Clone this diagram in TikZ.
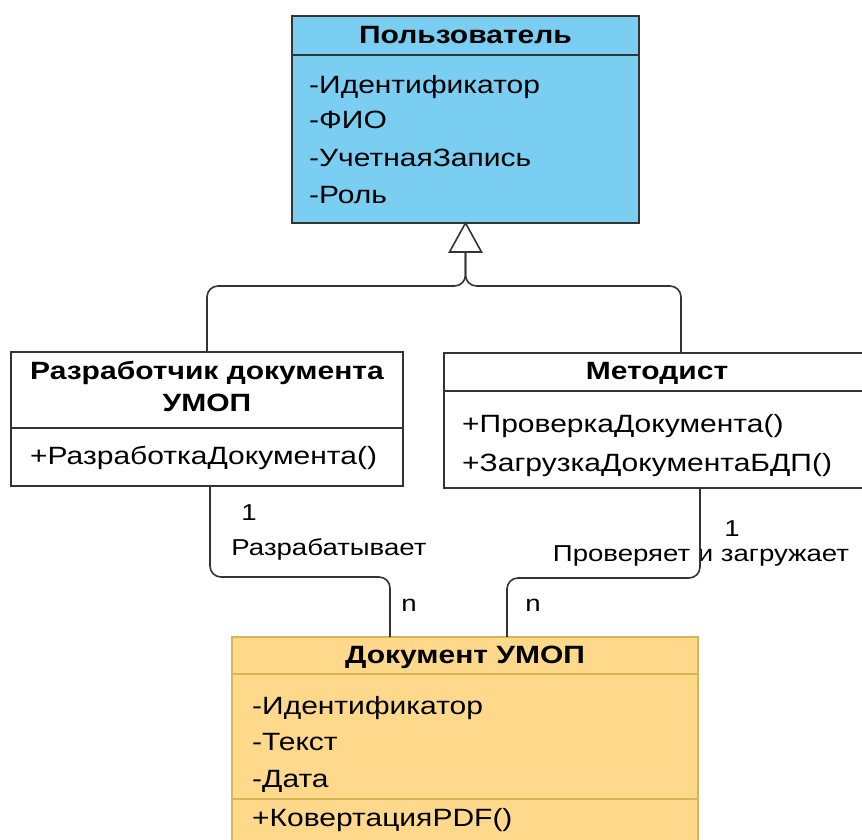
\documentclass[tikz,border=0pt]{standalone}
\usepackage{fontspec}
\setmainfont{Liberation Sans}[FakeStretch=1.2]
\definecolor{userblue}{RGB}{122,206,242}
\definecolor{docfill}{RGB}{254,217,140}
\definecolor{docline}{RGB}{214,182,86}
\definecolor{edge}{RGB}{51,51,51}
\newcommand{\fs}{\fontsize{25}{32}\selectfont}
\newcommand{\lfs}{\fontsize{23}{28}\selectfont}
\tikzset{
  box/.style={draw=edge, line width=1.6pt, inner sep=0, outer sep=0, anchor=north west},
  txt/.style={inner sep=0, anchor=base west, font=\fs, text=black},
  hdr/.style={inner sep=0, anchor=base, font=\fs\bfseries, text=black, align=center},
  lbl/.style={inner sep=0, anchor=base, font=\lfs, text=black},
  conn/.style={draw=edge, line width=1.6pt, rounded corners=11pt},
}
\begin{document}
\begin{tikzpicture}[x=1pt,y=-1pt]
\useasboundingbox (0,0) rectangle (862,839);
% Пользователь
\node[box, fill=userblue, minimum width=347, minimum height=207] (user) at (292,16) {};
\draw[edge, line width=1.6pt] (292,55) -- (639,55);
\node[hdr] (userh) at (465.5,43) {Пользователь};
\node[txt] (u1) at (309,93) {-Идентификатор};
\node[txt] (u2) at (309,128) {-ФИО};
\node[txt] (u3) at (309,166) {-УчетнаяЗапись};
\node[txt] (u4) at (309,203) {-Роль};
% Разработчик
\node[box, fill=white, minimum width=392, minimum height=134] (dev) at (11,352) {};
\draw[edge, line width=1.6pt] (11,428) -- (403,428);
\node[hdr] (devh) at (207,411) {Разработчик документа\\УМОП};
\node[txt] (d1) at (30,464) {+РазработкаДокумента()};
% Методист
\node[box, fill=white, minimum width=426, minimum height=135] (met) at (444,353) {};
\draw[edge, line width=1.6pt] (444,391) -- (870,391);
\node[hdr] (meth) at (657,379) {Методист};
\node[txt] (m1) at (462,432) {+ПроверкаДокумента()};
\node[txt] (m2) at (462,471) {+ЗагрузкаДокументаБДП()};
% Документ УМОП
\node[box, draw=docline, fill=docfill, minimum width=466, minimum height=215] (doc) at (232,637) {};
\draw[docline, line width=1.6pt] (232,674) -- (698,674);
\draw[docline, line width=1.6pt] (232,799) -- (698,799);
\node[hdr] (doch) at (465,663) {Документ УМОП};
\node[txt] (a1) at (252,714) {-Идентификатор};
\node[txt] (a2) at (252,750) {-Текст};
\node[txt] (a3) at (252,787) {-Дата};
\node[txt] (a4) at (252,826) {+КовертацияPDF()};
% inheritance
\coordinate (tip) at (user.south);
\coordinate (tb) at ([yshift=-29]tip);
\draw[edge, line width=1.6pt, fill=white] (tip) -- ([xshift=-16]tb) -- ([xshift=16]tb) -- cycle;
\draw[conn] (tb) -- ([yshift=-63]tip) -| (dev.north);
\draw[conn] (tb) -- ([yshift=-63]tip) -| ([xshift=24]met.north);
% associations labels
\node[lbl] (l1) at (249,520) {1};
\node[lbl] (l2) at (329,555) {Разрабатывает};
\node[lbl] (l3) at (409,611) {n};
\node[lbl] (l4) at (732,536) {1};
\node[lbl] (l5) at (701,561) {Проверяет и загружает};
\node[lbl] (l6) at (533,611) {n};
% associations
\coordinate (dj) at ([xshift=-75]doc.north);
\coordinate (mj) at ([xshift=42]doc.north);
\draw[conn] ([xshift=3]dev.south) -- ([xshift=3,yshift=-91]dev.south) -| (dj);
\draw[conn] ([xshift=43]met.south) -- ([xshift=43,yshift=-90]met.south) -| (mj);
\end{tikzpicture}
\end{document}
